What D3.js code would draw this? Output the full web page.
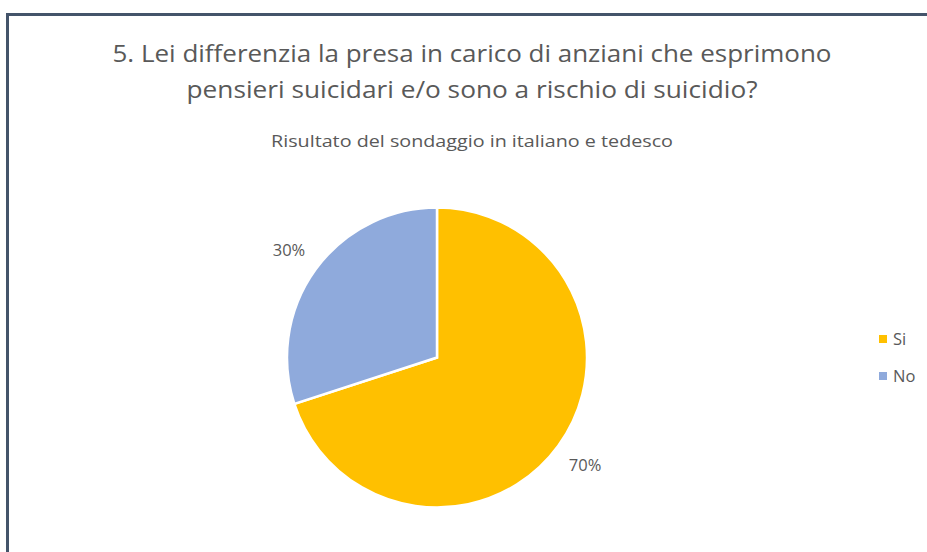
<!DOCTYPE html>
<html>
<head>
<meta charset="utf-8">
<script src="https://cdn.jsdelivr.net/npm/d3@7"></script>
<style>
  body { margin: 0; background: #fff; }
  svg text { font-family: "Open Sans", "Noto Sans", sans-serif; fill: #595959; }
</style>
</head>
<body>
<div id="chart"></div>
<script>
const categories = ["Si", "No"];
const values = [70, 30];
const colorsList = ["#FFC000", "#8FAADC"];
const titleLines = [
  "5. Lei differenzia la presa in carico di anziani che esprimono",
  "pensieri suicidari e/o sono a rischio di suicidio?"
];
const subtitle = "Risultato del sondaggio in italiano e tedesco";

let canvasWidth = 927, canvasHeight = 552;

let svg = d3.select("#chart").append("svg")
  .attr("width", canvasWidth)
  .attr("height", canvasHeight);

// chart border
svg.append("rect")
  .attr("x", 7.5).attr("y", 14.5)
  .attr("width", 940).attr("height", 560)
  .attr("fill", "none")
  .attr("stroke", "#44546A")
  .attr("stroke-width", 3);

let titleX = 472;
let titleWidths = [719, 571];
svg.selectAll("text.title")
  .data(titleLines).enter()
  .append("text")
    .attr("class", "title")
    .attr("x", titleX)
    .attr("y", (d, i) => 62 + i * 36)
    .attr("text-anchor", "middle")
    .attr("textLength", (d, i) => titleWidths[i])
    .attr("lengthAdjust", "spacingAndGlyphs")
    .style("font-size", "24px")
    .text((d) => d);

svg.append("text")
  .attr("x", titleX).attr("y", 147)
  .attr("text-anchor", "middle")
  .attr("textLength", 402)
  .attr("lengthAdjust", "spacingAndGlyphs")
  .style("font-size", "16.5px")
  .text(subtitle);

let cx = 437, cy = 357.5, radius = 150;
let color = d3.scaleOrdinal().domain(categories).range(colorsList);
let pie = d3.pie().sort(null).value((d) => d.value);
let data = categories.map((c, i) => ({ cat: c, value: values[i] }));
let arcs = pie(data);
let arc = d3.arc().innerRadius(0).outerRadius(radius);

let g = svg.append("g").attr("transform", "translate(" + cx + "," + cy + ")");
g.selectAll("path")
  .data(arcs).enter()
  .append("path")
    .attr("d", arc)
    .attr("fill", (d) => color(d.data.cat))
    .attr("stroke", "#fff")
    .attr("stroke-width", 2.5);

let total = d3.sum(values);
g.selectAll("text.lbl")
  .data(arcs).enter()
  .append("text")
    .attr("class", "lbl")
    .attr("transform", (d) => {
      let a = (d.startAngle + d.endAngle) / 2;
      let r = radius + 33;
      return "translate(" + (Math.sin(a) * r) + "," + (-Math.cos(a) * r) + ")";
    })
    .attr("text-anchor", "middle")
    .attr("dy", "0.35em")
    .style("font-size", "16.5px")
    .text((d) => Math.round(d.data.value / total * 100) + "%");

let legend = svg.append("g").attr("transform", "translate(879,339)");
let item = legend.selectAll("g")
  .data(categories).enter()
  .append("g")
    .attr("transform", (d, i) => "translate(0," + (i * 37) + ")");
item.append("rect")
  .attr("x", 0).attr("y", -4)
  .attr("width", 8).attr("height", 8)
  .attr("fill", (d) => color(d));
item.append("text")
  .attr("x", 14).attr("dy", "0.35em")
  .style("font-size", "16.5px")
  .text((d) => d);
</script>
</body>
</html>
